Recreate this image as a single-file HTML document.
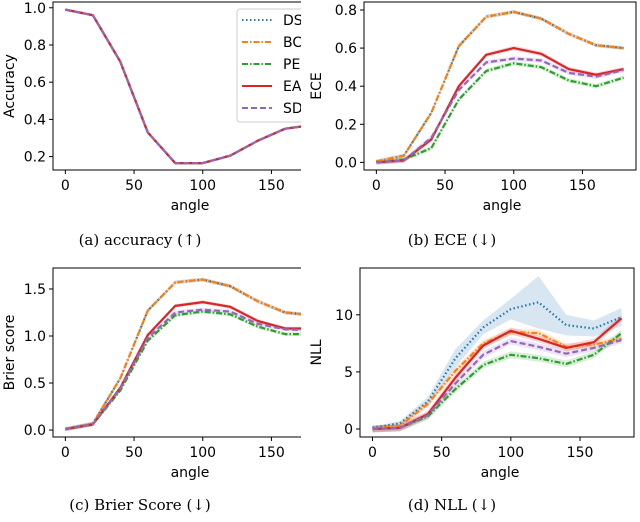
<!DOCTYPE html>
<html><head><meta charset="utf-8"><style>
body{margin:0;background:#fff;}
svg{display:block;font-family:"DejaVu Sans","Liberation Sans",sans-serif;}
.cap{font-family:"DejaVu Serif","Liberation Serif",serif;font-size:15px;}
</style></head><body>
<svg id="fig" width="640" height="522" viewBox="0 0 640 522">
<defs>
<clipPath id="leftcol"><rect x="0" y="0" width="301" height="522"/></clipPath>
</defs>
<g id="root"></g>
<text class="cap" x="140" y="245" text-anchor="middle">(a) accuracy (↑)</text>
<text class="cap" x="452" y="245" text-anchor="middle">(b) ECE (↓)</text>
<text class="cap" x="140" y="510" text-anchor="middle">(c) Brier Score (↓)</text>
<text class="cap" x="452" y="510" text-anchor="middle">(d) NLL (↓)</text>
</svg>
<script>
const angles=[0,20,40,60,80,100,120,140,160,180];
const seriesNames=["DS","BC","PE","EA","SD"];
const accDS=[0.99,0.96,0.71,0.33,0.165,0.165,0.205,0.285,0.35,0.37];
const accBC=[0.99,0.96,0.71,0.33,0.165,0.165,0.205,0.285,0.35,0.37];
const accPE=[0.99,0.96,0.71,0.33,0.165,0.165,0.205,0.285,0.35,0.37];
const accEA=[0.99,0.96,0.71,0.33,0.165,0.165,0.205,0.285,0.35,0.37];
const accSD=[0.99,0.96,0.71,0.33,0.165,0.165,0.205,0.285,0.35,0.37];
const eceDS=[0.005,0.035,0.26,0.61,0.765,0.79,0.755,0.675,0.615,0.6];
const eceBC=[0.005,0.035,0.26,0.61,0.765,0.79,0.755,0.675,0.615,0.6];
const ecePE=[0,0.015,0.075,0.33,0.48,0.52,0.5,0.43,0.4,0.445];
const eceEA=[0,0.01,0.12,0.4,0.565,0.6,0.57,0.49,0.46,0.49];
const eceSD=[0,0.01,0.13,0.38,0.525,0.545,0.535,0.47,0.45,0.485];
const brDS=[0.01,0.07,0.55,1.27,1.57,1.6,1.53,1.37,1.25,1.22];
const brBC=[0.01,0.07,0.55,1.27,1.57,1.6,1.53,1.37,1.25,1.22];
const brPE=[0.01,0.06,0.42,0.95,1.22,1.26,1.23,1.10,1.02,1.02];
const brEA=[0.01,0.06,0.45,1.01,1.32,1.36,1.31,1.16,1.08,1.08];
const brSD=[0.01,0.06,0.44,0.98,1.25,1.28,1.26,1.13,1.07,1.06];
const nllDS=[0.1,0.5,2.4,6.2,8.9,10.5,11.1,9.1,8.8,9.8];
const nllBC=[0,0.3,2.2,5.1,7.5,8.5,8.4,7.2,7.4,7.9];
const nllPE=[0,0.1,1.1,3.5,5.6,6.5,6.2,5.7,6.5,8.4];
const nllEA=[0,0.1,1.3,4.5,7.3,8.6,7.9,7.1,7.6,9.7];
const nllSD=[0,0.1,1.2,4.0,6.5,7.7,7.2,6.6,7.1,7.8];
const nllDSspread=[0.1,0.2,0.4,0.8,0.6,0.9,2.3,0.9,0.7,0.8];
const xTicks=[0,50,100,150];
const accTicks=[0.2,0.4,0.6,0.8,1.0];
const eceTicks=[0.0,0.2,0.4,0.6,0.8];
const brTicks=[0.0,0.5,1.0,1.5];
const nllTicks=[0,5,10];

const colors=["#1f77b4","#ff7f0e","#2ca02c","#d62728","#9467bd"];
const dashes=["1.5,2.5","6,2,1.5,2","6,2,1.5,2","","6,3"];
const NS="http://www.w3.org/2000/svg";
const root=document.getElementById('root');
function mk(tag,attrs,parent){const e=document.createElementNS(NS,tag);for(const k in attrs)e.setAttribute(k,attrs[k]);(parent||root).appendChild(e);return e;}

function panel(p){
  const g=mk('g',{});
  
  
  if(p.clip) g.setAttribute('clip-path','url(#leftcol)');
  const xs=v=>p.L+(v-(-9))/(198)*(p.R-p.L);
  const ys=v=>p.B-(v-p.ymin)/(p.ymax-p.ymin)*(p.B-p.T);
  const cid='c'+p.name;
  const cp=mk('clipPath',{id:cid},g);mk('rect',{x:p.L,y:p.T,width:p.R-p.L,height:p.B-p.T},cp);
  const plot=mk('g',{'clip-path':'url(#'+cid+')'},g);
  p.series.forEach((s,i)=>{
    const sp=p.spread[i];
    let up=angles.map((a,j)=>xs(a)+','+ys(s[j]+sp[j])).join(' ');
    let dn=angles.slice().reverse().map((a,jj)=>{const j=angles.length-1-jj;return xs(a)+','+ys(s[j]-sp[j]);}).join(' ');
    const band=mk('polygon',{points:up+' '+dn,fill:colors[i],'fill-opacity':0.18,stroke:'none'},plot);
    
    
  });
  p.series.forEach((s,i)=>{
    const pts=angles.map((a,j)=>xs(a)+','+ys(s[j])).join(' ');
    const ln=mk('polyline',{points:pts,fill:'none',stroke:colors[i],'stroke-width':2.2,'stroke-dasharray':dashes[i]||'none','stroke-linejoin':'round'},plot);
    
    
  });
  const frame=mk('rect',{x:p.L,y:p.T,width:p.R-p.L,height:p.B-p.T,fill:'none',stroke:'#000','stroke-width':1},g);
  
  
  xTicks.forEach(t=>{
    const x=xs(t);
    mk('line',{x1:x,x2:x,y1:p.B,y2:p.B+4,stroke:'#000'},g);
    const tx=mk('text',{x:x,y:p.B+20,'text-anchor':'middle','font-size':14},g);tx.textContent=t;
    
    
  });
  p.ticks.forEach(t=>{
    const y=ys(t);
    mk('line',{x1:p.L-4,x2:p.L,y1:y,y2:y,stroke:'#000'},g);
    const tx=mk('text',{x:p.L-7,y:y+5,'text-anchor':'end','font-size':14},g);tx.textContent=p.fmt(t);
    
    
  });
  const xl=mk('text',{x:p.xlabX,y:p.B+40,'text-anchor':'middle','font-size':14},g);xl.textContent='angle';
  
  
  const yl=mk('text',{x:0,y:0,'text-anchor':'middle','font-size':14,transform:'translate('+p.ylabX+','+((p.T+p.B)/2)+') rotate(-90)'},g);yl.textContent=p.ylabel;
  
  
  return g;
}
const f1=v=>v.toFixed(1);
const f0=v=>String(v);
const sm=n=>angles.map(()=>n);
panel({name:'panel-accuracy',L:53,R:325,T:2,B:170,ymin:0.128,ymax:1.031,series:[accDS,accBC,accPE,accEA,accSD],spread:[sm(0.006),sm(0.006),sm(0.006),sm(0.006),sm(0.006)],ticks:accTicks,fmt:f1,ylabel:'Accuracy',ylabX:14,xlabX:190,clip:true});
panel({name:'panel-ece',L:364,R:636,T:2,B:170,ymin:-0.04,ymax:0.842,series:[eceDS,eceBC,ecePE,eceEA,eceSD],spread:[sm(0.01),sm(0.01),sm(0.012),sm(0.012),sm(0.012)],ticks:eceTicks,fmt:f1,ylabel:'ECE',ylabX:321,xlabX:502});
panel({name:'panel-brier',L:53,R:325,T:268,B:437,ymin:-0.074,ymax:1.723,series:[brDS,brBC,brPE,brEA,brSD],spread:[sm(0.02),sm(0.02),sm(0.02),sm(0.02),sm(0.02)],ticks:brTicks,fmt:f1,ylabel:'Brier score',ylabX:14,xlabX:190,clip:true});
panel({name:'panel-nll',L:360,R:634,T:268,B:437,ymin:-0.7,ymax:14.1,series:[nllDS,nllBC,nllPE,nllEA,nllSD],spread:[nllDSspread,sm(0.3),sm(0.3),sm(0.3),sm(0.3)],ticks:nllTicks,fmt:f0,ylabel:'NLL',ylabX:321,xlabX:500});

const lg=mk('g',{'clip-path':'url(#leftcol)'});


mk('rect',{x:237,y:9,width:80,height:113,rx:3,fill:'#fff','fill-opacity':0.85,stroke:'#ccc'},lg);
seriesNames.forEach((n,i)=>{
  const y=20+i*22;
  const l=mk('line',{x1:242,x2:272,y1:y,y2:y,stroke:colors[i],'stroke-width':2,'stroke-dasharray':dashes[i]||'none'},lg);
  
  
  const t=mk('text',{x:283,y:y+5,'font-size':14},lg);t.textContent=n;
  
  
});
</script>
</body></html>
